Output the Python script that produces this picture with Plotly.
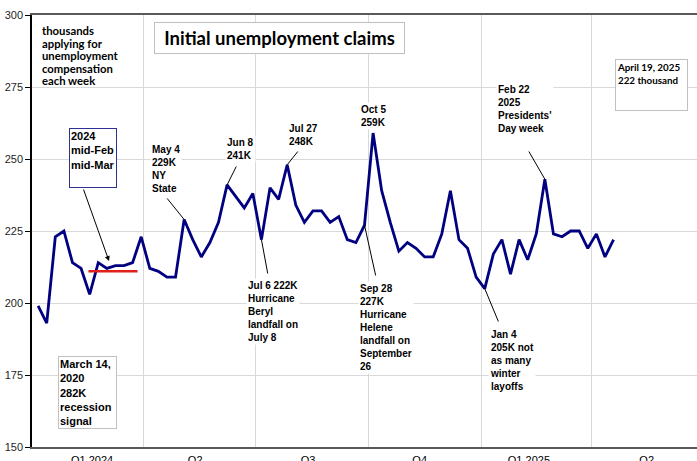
import plotly.graph_objects as go
import pandas as pd

# ---------------- data ----------------
week_start = "2024-01-06"
claims = [199, 193, 223, 225, 214, 212, 203, 214, 212, 213, 213, 214, 223,
          212, 211, 209, 209, 229, 222, 216, 221, 228, 241, 237, 233, 238,
          222, 240, 236, 248, 234, 228, 232, 232, 228, 230, 222, 221, 227,
          259, 239, 228, 218, 221, 219, 216, 216, 224, 239, 222, 219, 209,
          205, 217, 222, 210, 222, 215, 224, 243, 224, 223, 225, 225, 219,
          224, 216, 222]
dates = pd.date_range(week_start, periods=len(claims), freq="7D")

baseline_dates = ["2024-02-16", "2024-03-27"]
baseline_values = [211, 211]

quarter_labels = ["Q1 2024", "Q2", "Q3", "Q4", "Q1 2025", "Q2"]
quarter_label_dates = ["2024-02-19", "2024-05-13", "2024-08-13",
                       "2024-11-12", "2025-02-09", "2025-05-16"]
y_ticks = [150, 175, 200, 225, 250, 275, 300]

# ---------------- geometry helpers ----------------
W, H = 697, 461
L, R, T, B = 32, 0, 15, 14
PW, PH = W - L - R, H - T - B
X0, X1 = pd.Timestamp("2024-01-01"), pd.Timestamp("2025-06-26")
Y0, Y1 = 150, 300


def px2date(px):
    return X0 + (X1 - X0) * ((px - L) / PW)


def py2val(py):
    return Y0 + (Y1 - Y0) * (H - B - py) / PH


def xp(px):
    return (px - L) / PW


def yp(py):
    return (H - B - py) / PH


ARIAL = "Liberation Sans, Arial, sans-serif"
CAL = "Lato, Open Sans, sans-serif"

fig = go.Figure()
fig.add_trace(go.Scatter(x=dates, y=claims, mode="lines",
                         line=dict(color="#000080", width=2.8),
                         hoverinfo="x+y", showlegend=False))
fig.add_trace(go.Scatter(x=baseline_dates, y=baseline_values, mode="lines",
                         line=dict(color="#e0201c", width=2.5),
                         hoverinfo="skip", showlegend=False))

ann = []


def text(t, px, py, size=10, family=ARIAL, **kw):
    d = dict(text=t, xref="paper", yref="paper", x=xp(px), y=yp(py),
             xanchor="left", yanchor="top", align="left", showarrow=False,
             font=dict(family=family, size=size, color="black", weight="bold"),
             bgcolor="white", borderpad=1)
    d.update(kw)
    ann.append(d)


# "thousands applying..." block, one line each for Calibri-like spacing
for i, line in enumerate(["thousands", "applying for", "unemployment",
                          "compensation", "each week"]):
    text(line, 40, 22 + i * 12.6, size=11.3, family=CAL, bgcolor="rgba(0,0,0,0)")

# title box
ann.append(dict(text="Initial unemployment claims", xref="paper", yref="paper",
                x=xp(154), y=yp(22), xanchor="left", yanchor="top",
                showarrow=False, width=245, height=26, borderpad=2,
                bordercolor="#bfbfbf", borderwidth=1, bgcolor="white",
                font=dict(family=CAL, size=18.5, color="black", weight="bold")))

# boxed notes
text("2024<br>mid-Feb<br>mid-Mar", 69, 128, size=11, width=44, height=56,
     valign="top", bordercolor="#2e3192", borderwidth=1)
text("March 14,<br>2020<br>282K<br>recession<br>signal", 58, 356, size=11,
     width=55, valign="top", bordercolor="#c0c0c0", borderwidth=1)
text("April 19, 2025<br>222 thousand", 615, 59, size=9.8, family=CAL,
     width=69, height=48, valign="top", bordercolor="#c0c0c0", borderwidth=1)

# plain callouts
text("May 4<br>229K<br>NY<br>State", 150, 142)
text("Jun 8<br>241K", 225, 135)
text("Jul 27<br>248K", 287, 121)
text("Oct 5<br>259K", 359, 102)
text("Jul 6 222K<br>Hurricane<br>Beryl<br>landfall on<br>July 8", 246, 278)
text("Sep 28<br>227K<br>Hurricane<br>Helene<br>landfall on<br>September<br>26", 358, 281)
text("Feb 22<br>2025<br>Presidents'<br>Day week", 496, 82)
text("Jan 4<br>205K not<br>as many<br>winter<br>layoffs", 488, 327)

# leader lines: (index of week, far end px, far end py)
leaders = [(17, 166, 197), (22, 237, 165), (29, 299, 150), (26, 268, 275),
           (38, 376, 277), (59, 528, 150), (52, 499, 323)]
for idx, ex, ey in leaders:
    ann.append(dict(text="", x=dates[idx], y=claims[idx], xref="x", yref="y",
                    ax=px2date(ex), ay=py2val(ey), axref="x", ayref="y",
                    showarrow=True, arrowhead=0, arrowwidth=1,
                    arrowcolor="black", standoff=0, startstandoff=0))

# arrow from 2024 box to the baseline
ann.append(dict(text="", x=px2date(109), y=py2val(261), xref="x", yref="y",
                ax=px2date(83), ay=py2val(188), axref="x", ayref="y",
                showarrow=True, arrowhead=2, arrowsize=1, arrowwidth=1,
                arrowcolor="black", standoff=0))

fig.update_layout(
    width=W, height=H, margin=dict(l=L, r=R, t=T, b=B, autoexpand=False),
    paper_bgcolor="white", plot_bgcolor="white",
    annotations=ann, showlegend=False,
    xaxis=dict(range=[X0, X1], type="date", tickmode="array",
               tickvals=quarter_label_dates, ticktext=quarter_labels,
               showgrid=False, ticks="", showline=True, mirror=True,
               linecolor="#595959", linewidth=1.5, zeroline=False,
               ticklabelstandoff=2, automargin=False,
               tickfont=dict(family=ARIAL, size=11, color="black"),
               minor=dict(tickmode="linear", tick0="2024-01-01", dtick="M3",
                          showgrid=True, gridcolor="#d9d9d9", gridwidth=1,
                          ticks="")),
    yaxis=dict(range=[Y0, Y1], tickmode="array", tickvals=y_ticks,
               showgrid=True, gridcolor="#d9d9d9", gridwidth=1,
               showline=True, linecolor="black", linewidth=1.5,
               ticks="outside", ticklen=5, tickcolor="black", zeroline=False,
               automargin=False,
               tickfont=dict(family=ARIAL, size=11, color="#262626")),
)

fig.write_html("out.html")
